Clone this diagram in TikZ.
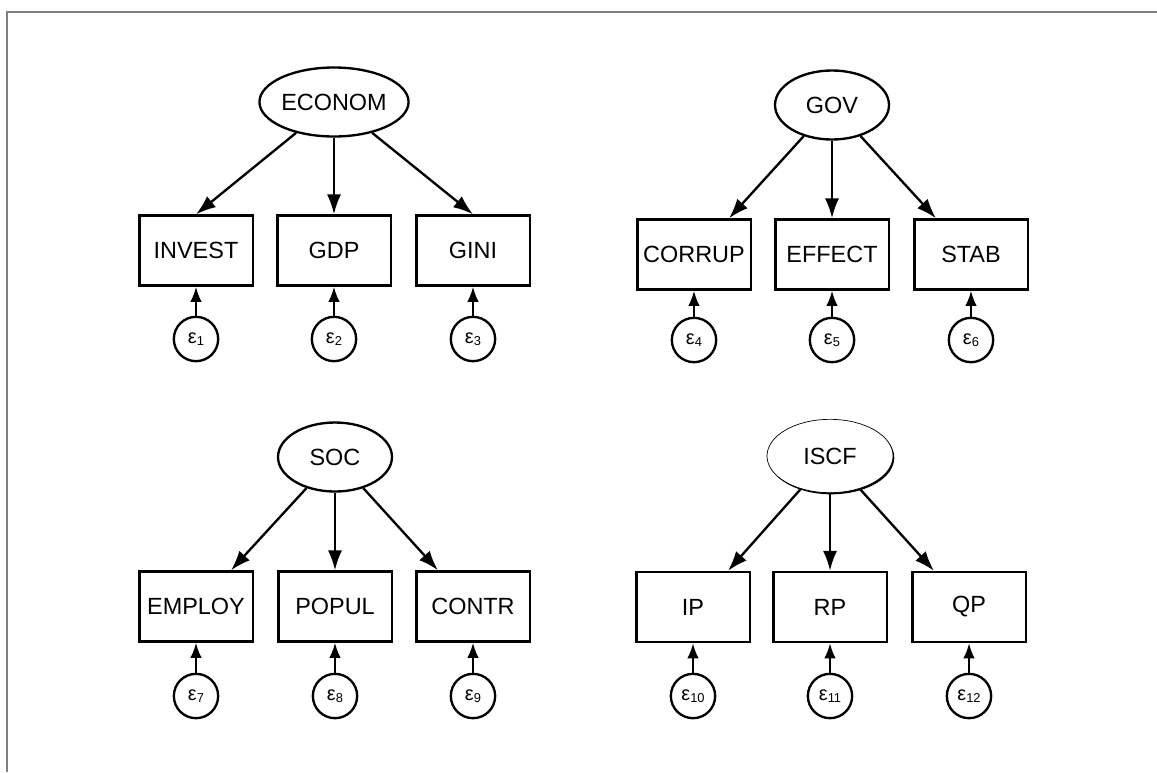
\documentclass[tikz,border=0pt]{standalone}
\usepackage{fontspec}
\setmainfont{Liberation Sans}
\usetikzlibrary{arrows.meta,shapes.geometric,shadows}
\newcommand{\errlab}[1]{{\fontsize{17}{17}\selectfont ε}{\fontsize{11}{11}\selectfont\raisebox{-1.5pt}{#1}}}
\begin{document}
\begin{tikzpicture}[x=0.03cm,y=-0.03cm,
    latent/.style={draw,line width=2pt,ellipse,inner sep=0pt,minimum width=3.42cm,minimum height=2.07cm,font=\fontsize{20}{20}\selectfont},
    latentshd/.style={draw,line width=0.6pt,ellipse,fill=white,inner sep=0pt,minimum width=3.78cm,minimum height=2.2cm,font=\fontsize{20}{20}\selectfont,
        drop shadow={shadow xshift=1.1pt,shadow yshift=-1.4pt,fill=black,opacity=1}},
    observed/.style={draw,line width=2pt,inner sep=0pt,minimum width=3.4cm,minimum height=2.1cm,font=\fontsize{20}{20}\selectfont},
    errc/.style={draw,line width=2pt,circle,inner sep=0pt,minimum size=1.33cm},
    load/.style={-{Latex[length=17pt,width=12pt]},line width=2pt},
    errarrow/.style={-{Latex[length=13pt,width=10pt]},line width=2pt}]
    \useasboundingbox (0,0) rectangle (1157,772);
    \draw[gray,line width=0.9pt] (7,772) -- (7,12) -- (1157,12);
    % economy
    \node[latent] (econ) at (334,102) {ECONOM};
    \node[observed] (invest) at (196,250.5) {INVEST};
    \node[observed] (gdp) at (334,250.5) {GDP};
    \node[observed] (gini) at (473,250.5) {GINI};
    \node[errc] (e1) at (196,339) {\errlab{1}};
    \node[errc] (e2) at (334,339) {\errlab{2}};
    \node[errc] (e3) at (473,339) {\errlab{3}};
    \draw[load] (econ) -- (invest.north);
    \draw[load] (econ) -- (gdp.north);
    \draw[load] (econ) -- (gini.north);
    \draw[errarrow] (e1) -- (invest);
    \draw[errarrow] (e2) -- (gdp);
    \draw[errarrow] (e3) -- (gini);
    % government
    \node[latent] (gov) at (832,105) {GOV};
    \node[observed] (corrup) at (694,254.5) {CORRUP};
    \node[observed] (effect) at (832,254.5) {EFFECT};
    \node[observed] (stab) at (971,254.5) {STAB};
    \node[errc] (e4) at (694,340) {\errlab{4}};
    \node[errc] (e5) at (832,340) {\errlab{5}};
    \node[errc] (e6) at (971,340) {\errlab{6}};
    \draw[load] (gov) -- ([xshift=1.05cm]corrup.north);
    \draw[load] (gov) -- (effect.north);
    \draw[load] (gov) -- ([xshift=-1.05cm]stab.north);
    \draw[errarrow] (e4) -- (corrup);
    \draw[errarrow] (e5) -- (effect);
    \draw[errarrow] (e6) -- (stab);
    % society
    \node[latent] (soc) at (335,457) {SOC};
    \node[observed] (employ) at (196,606.5) {EMPLOY};
    \node[observed] (popul) at (335,606.5) {POPUL};
    \node[observed] (contr) at (473,606.5) {CONTR};
    \node[errc] (e7) at (196,696) {\errlab{7}};
    \node[errc] (e8) at (335,696) {\errlab{8}};
    \node[errc] (e9) at (473,696) {\errlab{9}};
    \draw[load] (soc) -- ([xshift=1.05cm]employ.north);
    \draw[load] (soc) -- (popul.north);
    \draw[load] (soc) -- ([xshift=-1.05cm]contr.north);
    \draw[errarrow] (e7) -- (employ);
    \draw[errarrow] (e8) -- (popul);
    \draw[errarrow] (e9) -- (contr);
    % ISCF
    \node[latentshd] (iscf) at (830,456) {ISCF};
    \node[observed] (ip) at (693,607) {IP};
    \node[observed] (rp) at (830,607) {RP};
    \node[observed] (qp) at (969,607) {QP};
    \node[errc] (e10) at (693,696) {\errlab{10}};
    \node[errc] (e11) at (830,696) {\errlab{11}};
    \node[errc] (e12) at (969,696) {\errlab{12}};
    \draw[load] (iscf) -- ([xshift=1.05cm]ip.north);
    \draw[load] (iscf) -- (rp.north);
    \draw[load] (iscf) -- ([xshift=-1.05cm]qp.north);
    \draw[errarrow] (e10) -- (ip);
    \draw[errarrow] (e11) -- (rp);
    \draw[errarrow] (e12) -- (qp);
\end{tikzpicture}
\end{document}
